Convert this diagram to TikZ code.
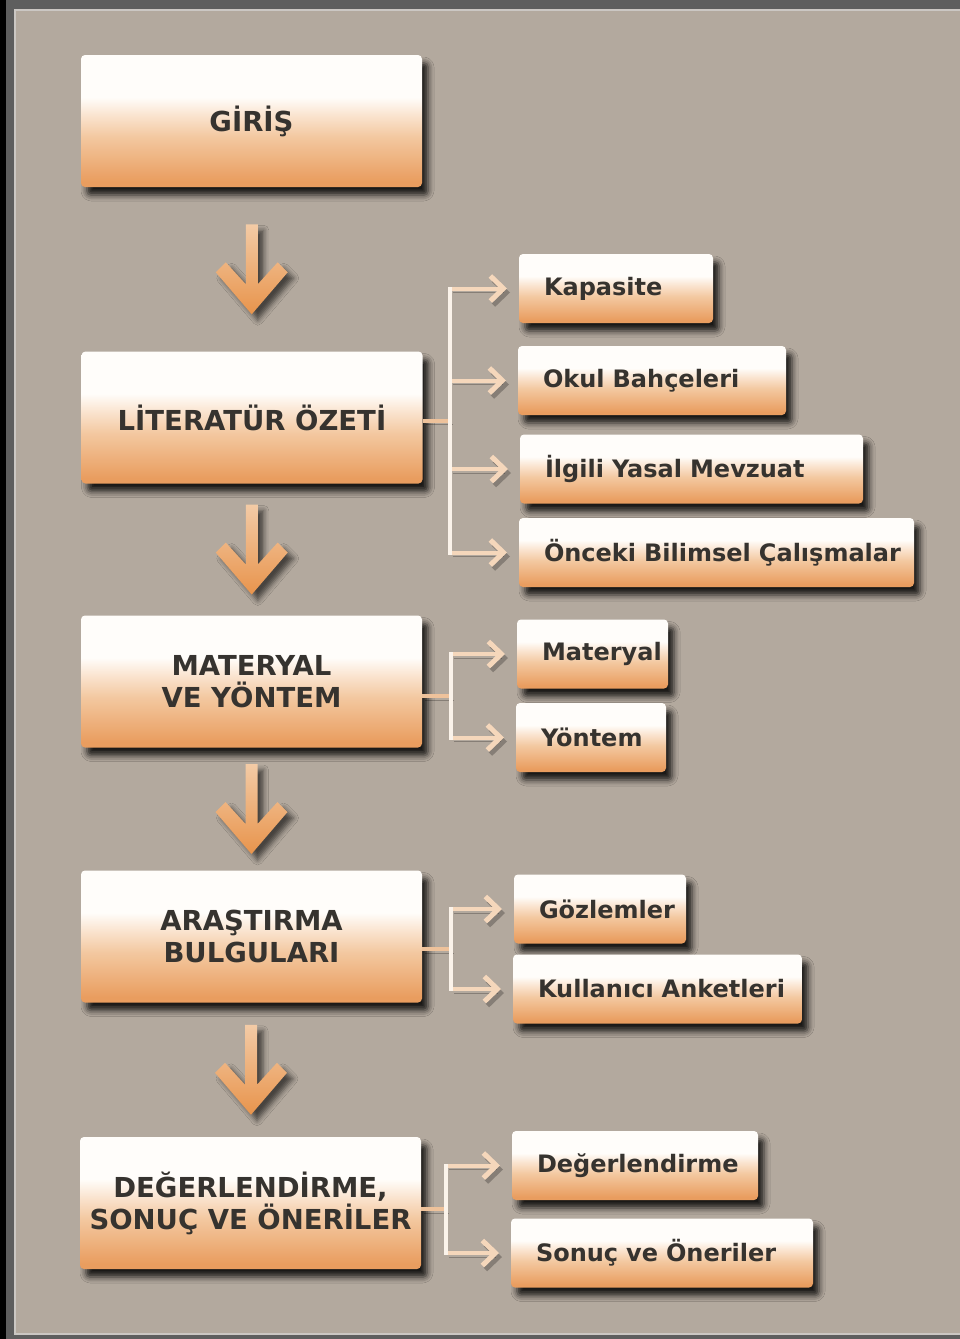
\documentclass[tikz,border=0pt]{standalone}
\usepackage{fontspec}
\setmainfont{DejaVu Sans}
\usetikzlibrary{calc,arrows.meta,shadows.blur}

\definecolor{bgtan}{HTML}{B3A99E}
\definecolor{framegray}{HTML}{5E5E5E}
\definecolor{frameline}{HTML}{CBC7C3}
\definecolor{txtgray}{HTML}{36332F}
\definecolor{boxorange}{HTML}{E99D5F}
\definecolor{boxpeach}{HTML}{F3C8A0}
\definecolor{boxlight}{HTML}{FAE3CE}
\definecolor{boxwhite}{HTML}{FFFDFA}
\definecolor{arrowtop}{HTML}{F3CBA6}
\definecolor{arrowbot}{HTML}{E8944C}
\definecolor{feedcol}{HTML}{EEC29B}
\definecolor{barcol}{HTML}{FBF3EA}
\definecolor{tipcol}{HTML}{F5D7BB}

\pgfdeclareverticalshading{boxshade}{100bp}{color(0bp)=(boxorange); color(27bp)=(boxorange);
  color(44bp)=(boxpeach); color(52bp)=(boxlight); color(59bp)=(boxwhite); color(100bp)=(boxwhite)}

\tikzset{
  boxbase/.style={rectangle, rounded corners=4pt, shading=boxshade, text=txtgray, outer sep=0pt,
    blur shadow={shadow xshift=6pt, shadow yshift=-8pt, shadow blur radius=6pt, shadow opacity=85}},
  mainbox/.style={boxbase, minimum width=341pt, minimum height=132pt, align=center,
    font=\bfseries\fontsize{27.5}{32}\selectfont},
  subbox/.style={boxbase, anchor=west, inner xsep=0pt, minimum height=69pt, text width=#1,
    align=left, execute at begin node={\hspace*{25pt}}, font=\bfseries\fontsize{24}{28}\selectfont},
  feed/.style={draw=feedcol, line width=4pt,
    preaction={draw=black, opacity=.25, transform canvas={shift={(3pt,-4pt)}}}},
  bar/.style={draw=barcol, line width=4pt, line cap=rect},
  subarrow/.style={draw=tipcol, line width=4pt, shorten >=12pt,
    -{Straight Barb[length=13pt,width=25pt,line width=5pt]},
    preaction={draw=black, opacity=.25, transform canvas={shift={(3pt,-4pt)}}}},
  bigdown/.style={top color=arrowtop, bottom color=arrowbot,
    blur shadow={shadow xshift=6pt, shadow yshift=-6pt, shadow blur radius=5pt, shadow opacity=60}}
}

\begin{document}
\begin{tikzpicture}[x=1pt, y=-1pt]

    % First the frame and the background
    \useasboundingbox (0,0) rectangle (960,1339);
    \fill[framegray] (0,0) rectangle (960,1339);
    \fill[black] (0,0) rectangle (6,1339);
    \fill[frameline] (14,9) rectangle (960,1335);
    \fill[bgtan] (16,11) rectangle (960,1333);

    % Main steps
    \node[mainbox] (giris) at (251.5,121) {GİRİŞ};
    \node[mainbox] (lit) at (252,417.5) {LİTERATÜR ÖZETİ};
    \node[mainbox] (mat) at (251.5,681.5) {MATERYAL\\VE YÖNTEM};
    \node[mainbox] (ara) at (251.5,936.5) {ARAŞTIRMA\\BULGULARI};
    \node[mainbox] (deg) at (250.5,1203) {DEĞERLENDİRME,\\SONUÇ VE ÖNERİLER};

    % Sub topics
    \node[subbox=194pt] (kap) at (519,288.5) {Kapasite};
    \node[subbox=268pt] (okul) at (518,380.5) {Okul Bahçeleri};
    \node[subbox=343pt] (mevz) at (520,469) {İlgili Yasal Mevzuat};
    \node[subbox=395pt] (onc) at (519,552.5) {Önceki Bilimsel Çalışmalar};
    \node[subbox=151pt] (mtr) at (517,654) {Materyal};
    \node[subbox=150pt] (ynt) at (516,737.5) {Yöntem};
    \node[subbox=172pt] (goz) at (514,909) {Gözlemler};
    \node[subbox=289pt] (kul) at (513,989) {Kullanıcı Anketleri};
    \node[subbox=246pt] (dgr) at (512,1165.5) {Değerlendirme};
    \node[subbox=302pt] (snc) at (511,1253) {Sonuç ve Öneriler};

    % Big arrows between the main steps
    \foreach \a/\b in {giris/lit, lit/mat, mat/ara, ara/deg}
      \path[bigdown, shift={($(\a.south)!.5!(\b.north)$)}]
        (0,45) -- (-36,3) -- (-26,-7) -- (-6,15) -- (-6,-45)
        -- (6,-45) -- (6,15) -- (26,-7) -- (36,3) -- cycle;

    % Literature branch
    \coordinate (litx) at ([xshift=27pt]lit.east);
    \coordinate (litj) at ($(litx |- kap.west)!.5!(litx |- onc.west)$);
    \draw[feed] (lit.east |- litj) -- (litj);
    \foreach \s in {kap, okul, mevz, onc}
      \draw[subarrow] (litx |- \s.west) -- (\s.west);
    \draw[bar] (litx |- kap.west) -- (litx |- onc.west);

    % Material branch
    \coordinate (matx) at ([xshift=29pt]mat.east);
    \coordinate (matj) at ($(matx |- mtr.west)!.5!(matx |- ynt.west)$);
    \draw[feed] (mat.east |- matj) -- (matj);
    \foreach \s in {mtr, ynt}
      \draw[subarrow] (matx |- \s.west) -- (\s.west);
    \draw[bar] (matx |- mtr.west) -- (matx |- ynt.west);

    % Findings branch
    \coordinate (arax) at ([xshift=29pt]ara.east);
    \coordinate (araj) at ($(arax |- goz.west)!.5!(arax |- kul.west)$);
    \draw[feed] (ara.east |- araj) -- (araj);
    \foreach \s in {goz, kul}
      \draw[subarrow] (arax |- \s.west) -- (\s.west);
    \draw[bar] (arax |- goz.west) -- (arax |- kul.west);

    % Evaluation branch
    \coordinate (degx) at ([xshift=25pt]deg.east);
    \coordinate (degj) at ($(degx |- dgr.west)!.5!(degx |- snc.west)$);
    \draw[feed] (deg.east |- degj) -- (degj);
    \foreach \s in {dgr, snc}
      \draw[subarrow] (degx |- \s.west) -- (\s.west);
    \draw[bar] (degx |- dgr.west) -- (degx |- snc.west);

\end{tikzpicture}
\end{document}
